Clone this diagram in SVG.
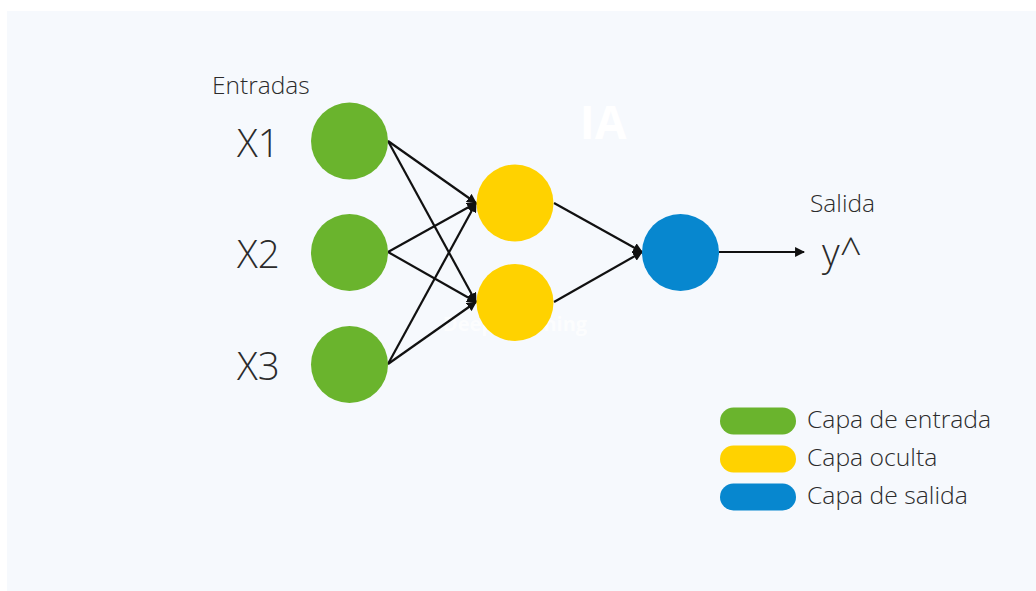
<svg xmlns="http://www.w3.org/2000/svg" width="1036" height="591" viewBox="0 0 1036 591">
  <style>
    .lbl { font-family: "Open Sans", "Noto Sans", sans-serif; font-weight: 300; fill: #2b2b2b; }
    .small { font-size: 24.5px; }
    .big { font-size: 38.5px; }
    .legend { font-size: 24.7px; }
    .edge { stroke: #111; stroke-width: 2.2; fill: none; marker-end: url(#arrow); }
    .in { fill: #6ab42d; }
    .hid { fill: #ffd200; }
    .out { fill: #0787cf; }
    .ghost { font-family: "Open Sans", "Noto Sans", sans-serif; font-weight: 700; fill: #ffffff; }
  </style>
  <defs>
    <marker id="arrow" viewBox="0 0 10 10" refX="9" refY="5" markerWidth="4.5" markerHeight="4.5" orient="auto" markerUnits="strokeWidth">
      <path d="M0,0 L10,5 L0,10 z" fill="#111"/>
    </marker>
  </defs>

  <!-- page background -->
  <rect x="0" y="0" width="1036" height="591" fill="#ffffff"/>
  <rect x="7" y="11" width="1029" height="580" fill="#f6f9fd"/>

  <!-- faint watermark titles -->
  <text class="ghost" x="603" y="139" font-size="46" text-anchor="middle">IA</text>
  <text class="ghost" x="515" y="331" font-size="20" text-anchor="middle" opacity="0.75">Deep Learning</text>

  <!-- connectors -->
  <g id="connectors">
    <line class="edge" x1="388" y1="141" x2="476" y2="203"/>
    <line class="edge" x1="388" y1="141" x2="476" y2="302"/>
    <line class="edge" x1="388" y1="252" x2="476" y2="203"/>
    <line class="edge" x1="388" y1="252" x2="476" y2="302"/>
    <line class="edge" x1="388" y1="364" x2="476" y2="203"/>
    <line class="edge" x1="388" y1="364" x2="476" y2="302"/>
    <line class="edge" x1="554" y1="203" x2="642" y2="252"/>
    <line class="edge" x1="554" y1="302" x2="642" y2="252"/>
    <line class="edge" x1="719" y1="252" x2="804" y2="252"/>
  </g>

  <!-- input layer -->
  <g id="label-entradas"><text class="lbl small" x="212" y="94">Entradas</text></g>
  <g id="x1">
    <text class="lbl big" x="237" y="157">X1</text>
    <circle class="in" cx="349.5" cy="141" r="38.5"/>
  </g>
  <g id="x2">
    <text class="lbl big" x="237" y="268">X2</text>
    <circle class="in" cx="349.5" cy="252.5" r="38.5"/>
  </g>
  <g id="x3">
    <text class="lbl big" x="237" y="380">X3</text>
    <circle class="in" cx="349.5" cy="364.5" r="38.5"/>
  </g>

  <!-- hidden layer -->
  <g id="h1"><circle class="hid" cx="515" cy="203" r="38.5"/></g>
  <g id="h2"><circle class="hid" cx="515" cy="302.5" r="38.5"/></g>

  <!-- output layer -->
  <g id="out"><circle class="out" cx="680.5" cy="252.5" r="38.5"/></g>
  <g id="label-salida"><text class="lbl small" x="810" y="212">Salida</text></g>
  <g id="yhat"><text class="lbl big" x="822" y="266">y^</text></g>

  <!-- legend -->
  <g id="legend">
    <rect class="in" x="720" y="407.5" width="76" height="27" rx="13.5"/>
    <text class="lbl legend" x="807" y="428">Capa de entrada</text>
    <rect class="hid" x="720" y="445.5" width="76" height="27" rx="13.5"/>
    <text class="lbl legend" x="807" y="466">Capa oculta</text>
    <rect class="out" x="720" y="483.5" width="76" height="27" rx="13.5"/>
    <text class="lbl legend" x="807" y="504">Capa de salida</text>
  </g>
</svg>
